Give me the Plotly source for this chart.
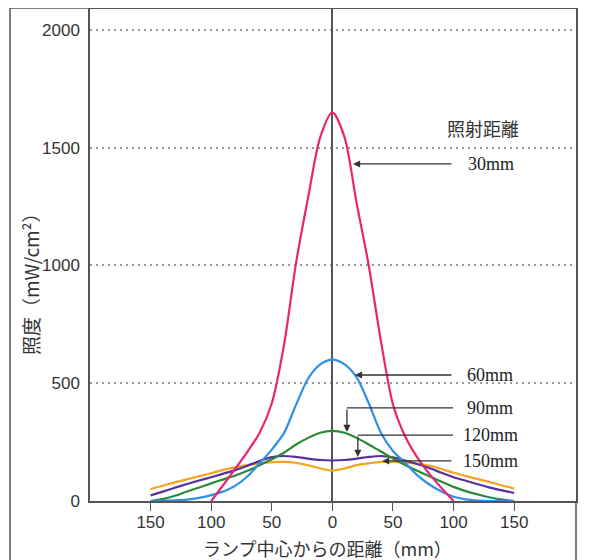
import plotly.graph_objects as go

# ---- data ----
X_FULL = list(range(-150, 151, 10))
X_30 = list(range(-100, 101, 10))

I_30MM = [0, 68, 138, 210, 290, 415, 660, 1010, 1290, 1545, 1650,
          1545, 1265, 1000, 680, 410, 275, 185, 115, 55, 0]
I_60MM = [0, 1, 3, 6, 13, 25, 40, 65, 105, 160, 218, 288, 408, 520, 580, 600,
          580, 525, 415, 290, 212, 162, 110, 70, 40, 18, 7, 2, 0, 0, 0]
I_90MM = [0, 8, 22, 40, 57, 75, 92, 108, 128, 152, 177, 205, 240, 268, 290, 298,
          290, 268, 240, 210, 180, 153, 128, 105, 82, 60, 42, 28, 15, 6, 0]
I_120MM = [24, 40, 56, 72, 87, 101, 116, 131, 150, 170, 186, 191, 187, 180, 174, 172,
           174, 180, 187, 191, 185, 172, 157, 140, 120, 101, 86, 71, 57, 45, 34]
I_150MM = [51, 65, 79, 92, 105, 118, 132, 143, 152, 160, 165, 166, 162, 152, 138, 129,
           138, 152, 160, 166, 166, 163, 158, 150, 136, 120, 106, 93, 80, 66, 53]

X_TICKS = [-150, -100, -50, 0, 50, 100, 150]
X_TICKTEXT = ["150", "100", "50", "0", "50", "100", "150"]
Y_TICKS = [0, 500, 1000, 1500, 2000]

SERIES = [
    ("150mm", X_FULL, I_150MM, "#f6a21c"),
    ("120mm", X_FULL, I_120MM, "#58309c"),
    ("90mm", X_FULL, I_90MM, "#2a8a34"),
    ("60mm", X_FULL, I_60MM, "#2f8fe9"),
    ("30mm", X_30, I_30MM, "#e8266f"),
]

fig = go.Figure()
for name, xs, ys, col in SERIES:
    fig.add_trace(go.Scatter(
        x=xs, y=ys, mode="lines", name=name,
        line=dict(color=col, width=2.2, shape="spline", smoothing=0.8),
        showlegend=False, hoverinfo="skip"))

AX = "#555555"
TXT = "#333333"
tickfont = dict(family="Liberation Sans, Arial, sans-serif", size=17, color=TXT)

# the page body adds an 8px offset; the figure is sized so the plot lands in place
fig.update_layout(
    width=583, height=552,
    margin=dict(l=82, r=15, t=1, b=59, autoexpand=False),
    paper_bgcolor="white", plot_bgcolor="white",
    xaxis=dict(range=[-200, 201], tickvals=X_TICKS, ticktext=X_TICKTEXT,
               ticks="outside", ticklen=8, tickwidth=1.2, tickcolor=AX,
               ticklabelstandoff=-3,
               showgrid=False, zeroline=True, zerolinecolor=AX, zerolinewidth=1.5,
               showline=True, linecolor=AX, linewidth=1.5, mirror=True,
               tickfont=tickfont, automargin=False),
    yaxis=dict(range=[0, 2089], tickvals=Y_TICKS, ticks="",
               showgrid=True, gridcolor="#999999", gridwidth=1.5, griddash="2px,4px",
               zeroline=False, showline=True, linecolor=AX, linewidth=1.5, mirror=True,
               ticklabelstandoff=5, tickfont=tickfont, automargin=False),
)

PW, PH = 486, 492

# outer frame
fx = (10 - 90) / PW
for x0, y0, x1, y1 in [(fx, 1.002, fx, -0.25), (fx, 1.002, 0, 1.002), (1, 0, 1, -0.25)]:
    fig.add_shape(type="line", xref="paper", yref="paper", x0=x0, y0=y0, x1=x1, y1=y1,
                  line=dict(color=AX, width=1.5))

# axis titles
cjk = "Noto Sans CJK JP, sans-serif"
fig.add_annotation(xref="paper", yref="paper", x=(30 - 90) / PW, y=(501 - 279) / PH,
                   xanchor="center", yanchor="middle",
                   text="照度（mW/cm²）", textangle=-90, showarrow=False,
                   font=dict(family=cjk, size=19, color=TXT))
fig.add_annotation(xref="paper", yref="paper", x=(327 - 90) / PW, y=(501 - 548) / PH,
                   xanchor="center", yanchor="middle",
                   text="ランプ中心からの距離（mm）", showarrow=False,
                   font=dict(family=cjk, size=18, color=TXT))

# labels
serif = dict(family="Liberation Serif, Times New Roman, serif", size=18, color="#222")
fig.add_annotation(x=124, y=1584, text="照射距離", showarrow=False,
                   xanchor="center", yanchor="middle",
                   font=dict(family=cjk, size=18, color=TXT))
LABELS = [("30mm", 110, 1431), ("60mm", 109, 535), ("90mm", 109, 395),
          ("120mm", 106, 280), ("150mm", 106, 170)]
for t, lx, ly in LABELS:
    fig.add_annotation(x=lx, y=ly, text=t, showarrow=False, xanchor="left",
                       yanchor="middle", font=serif)

# arrows
def arrow(x_tip, y_tip, x_tail, y_tail):
    fig.add_annotation(x=x_tip, y=y_tip, ax=x_tail, ay=y_tail, axref="x", ayref="y",
                       text="", showarrow=True, arrowhead=2, arrowsize=1.1,
                       arrowwidth=1.3, arrowcolor="#333", standoff=0, startstandoff=0)

def hline(x0, x1, y):
    fig.add_shape(type="line", x0=x0, x1=x1, y0=y, y1=y, line=dict(color="#333", width=1.3))

arrow(17, 1431, 99.5, 1431)
arrow(18.6, 535, 99.5, 535)
hline(12, 99.5, 395)
arrow(12, 293, 12, 395)
hline(21, 99.5, 280)
arrow(21, 187, 21, 280)
arrow(41, 170, 99.5, 170)

fig.write_html("out.html")
